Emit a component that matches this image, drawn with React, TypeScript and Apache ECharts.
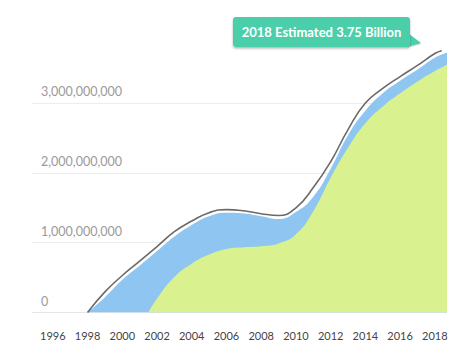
import React, { useEffect, useRef } from "react";
import * as echarts from "echarts";

// X-axis tick labels (years)
const X_TICK_YEARS = [1996, 1998, 2000, 2002, 2004, 2006, 2008, 2010, 2012, 2014, 2016, 2018];

// Grey outline (total users), in billions
const LINE_YEARS = [1998, 1999, 2000, 2001, 2002, 2003, 2004, 2005, 2006, 2007, 2008, 2009, 2010, 2011, 2012, 2013, 2014, 2015, 2016, 2017, 2018, 2018.4];
const LINE_VALUES = [0, 0.295, 0.53, 0.736, 0.945, 1.158, 1.31, 1.43, 1.474, 1.457, 1.415, 1.39, 1.5, 1.79, 2.16, 2.62, 3.0, 3.21, 3.38, 3.54, 3.71, 3.75];

// Blue area (total), in billions
const TOTAL_YEARS = [1998, 1999, 2000, 2001, 2002, 2003, 2004, 2005, 2006, 2007, 2008, 2009, 2010, 2011, 2012, 2013, 2014, 2015, 2016, 2017, 2018, 2018.7];
const TOTAL_VALUES = [0, 0.22, 0.47, 0.67, 0.88, 1.09, 1.255, 1.38, 1.43, 1.42, 1.38, 1.34, 1.44, 1.66, 2.06, 2.54, 2.89, 3.14, 3.32, 3.48, 3.65, 3.72];

// Green area (mobile), in billions
const MOBILE_YEARS = [2001.5, 2002, 2003, 2004, 2005, 2006, 2007, 2008, 2009, 2010, 2011, 2012, 2013, 2014, 2015, 2016, 2017, 2018, 2018.7];
const MOBILE_VALUES = [0, 0.2, 0.51, 0.7, 0.83, 0.91, 0.935, 0.95, 0.99, 1.12, 1.45, 1.93, 2.36, 2.71, 2.95, 3.14, 3.31, 3.46, 3.55];

const ANNOTATION = "2018 Estimated 3.75 Billion";

const BILLION = 1e9;
const pairs = (xs: number[], ys: number[]) => xs.map((x, i) => [x, ys[i] * BILLION]);

export default function App() {
  const ref = useRef<HTMLDivElement>(null);

  useEffect(() => {
    if (!ref.current) return;
    const chart = echarts.init(ref.current, undefined, { renderer: "svg" });
    const font = "Lato";
    chart.setOption({
      animation: false,
      textStyle: { fontFamily: font },
      grid: { left: 32, right: 26, top: 33.3, bottom: 47.5 },
      xAxis: {
        type: "value",
        min: 1994.8,
        max: 2018.7,
        axisLine: { show: false },
        axisTick: { show: false },
        splitLine: { show: false },
        axisLabel: {
          customValues: X_TICK_YEARS,
          formatter: (v: number) => String(v),
          color: "#444",
          fontSize: 11,
          fontFamily: font,
          margin: 17,
        },
      },
      yAxis: {
        type: "value",
        min: 0,
        max: 4 * BILLION,
        interval: BILLION,
        axisLine: { show: false },
        axisTick: { show: false },
        axisLabel: {
          inside: true,
          margin: 9,
          showMaxLabel: false,
          verticalAlign: "bottom",
          padding: [0, 0, 5, 0],
          color: "#9a9a9a",
          fontSize: 12.5,
          fontFamily: font,
          formatter: (v: number) => v.toLocaleString("en-US"),
        },
        splitLine: {
          show: true,
          lineStyle: {
            color: ["#e6e6e6", "#ececec", "#ececec", "#ececec", "rgba(0,0,0,0)"],
            width: 1,
          },
        },
      },
      series: [
        {
          type: "line",
          name: "Total",
          data: pairs(TOTAL_YEARS, TOTAL_VALUES),
          smooth: 0.5,
          symbol: "none",
          lineStyle: { width: 0 },
          areaStyle: { color: "#8ec5f1", opacity: 1 },
          z: 2,
        },
        {
          type: "line",
          name: "Mobile",
          data: pairs(MOBILE_YEARS, MOBILE_VALUES),
          smooth: 0.5,
          symbol: "none",
          lineStyle: { width: 0 },
          areaStyle: { color: "#d9f18e", opacity: 1 },
          z: 3,
        },
        {
          type: "line",
          name: "Outline",
          data: pairs(LINE_YEARS, LINE_VALUES),
          smooth: 0.5,
          symbol: "none",
          lineStyle: { color: "#6a6a6a", width: 1.6 },
          z: 4,
        },
      ],
      graphic: [
        {
          type: "polygon",
          shape: { points: [[408, 33], [421, 43], [408, 46.5]] },
          style: { fill: "#4bcfaa", shadowColor: "rgba(0,0,0,0.25)", shadowOffsetY: 1, shadowBlur: 1 },
          z: 10,
        },
        {
          type: "rect",
          shape: { x: 233, y: 17, width: 177, height: 30, r: 3 },
          style: { fill: "#4bcfaa", shadowColor: "rgba(0,0,0,0.3)", shadowOffsetY: 1.5, shadowBlur: 2 },
          z: 11,
        },
        {
          type: "text",
          x: 321.5,
          y: 32,
          style: {
            text: ANNOTATION,
            fill: "#ffffff",
            font: `bold 13px ${font}`,
            align: "center",
            verticalAlign: "middle",
          },
          z: 12,
        },
      ],
    });
    return () => chart.dispose();
  }, []);

  return (
    <div
      ref={ref}
      style={{ position: "fixed", left: 0, top: 0, width: 473, height: 360, background: "#fff" }}
    />
  );
}
